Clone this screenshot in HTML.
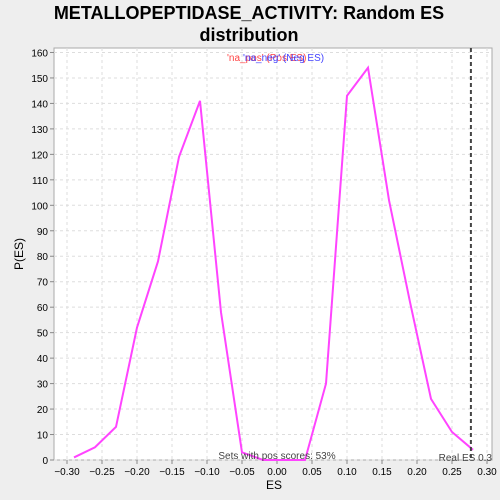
<!DOCTYPE html>
<html><head><meta charset="utf-8"><style>
body{margin:0;background:#eeeeee;}
svg{display:block;font-family:"Liberation Sans","DejaVu Sans",sans-serif;}
</style></head><body>
<svg id="chart" width="500" height="500">
<rect x="0" y="0" width="500" height="500" fill="#eeeeee"/>
<text x="249" y="19" text-anchor="middle" font-size="18" font-weight="bold">METALLOPEPTIDASE_ACTIVITY: Random ES</text>
<text x="249" y="41" text-anchor="middle" font-size="18" font-weight="bold">distribution</text>
<rect x="54" y="48" width="438" height="412" fill="#ffffff" stroke="#aaaaaa"/>
<g id="grid"></g><g id="axes"></g><g id="series"></g>
<text x="274" y="489" text-anchor="middle" font-size="12">ES</text>
<text x="23" y="254" text-anchor="middle" font-size="12" transform="rotate(-90 23 254)">P(ES)</text>
<text x="227" y="61" font-size="10" fill="#ff4444">'na_pos' (Pos ES)</text>
<text x="243" y="61" font-size="10" fill="#4444ff">'na_neg' (Neg ES)</text>
<text x="277" y="459" text-anchor="middle" font-size="10" fill="#444">Sets with pos scores: 53%</text>
<text x="492" y="461" text-anchor="end" font-size="10" fill="#444">Real ES 0.3</text>
</svg>
<script>
const xs=[-0.29,-0.26,-0.23,-0.20,-0.17,-0.14,-0.11,-0.08,-0.05,-0.02,0.01,0.04,0.07,0.10,0.13,0.16,0.19,0.22,0.25,0.28];
const ys=[1,5,13,52,78,119,141,58,3,0,0,0,30,143,154,102,62,24,11,4];
const xTicks=[-0.30,-0.25,-0.20,-0.15,-0.10,-0.05,0.00,0.05,0.10,0.15,0.20,0.25,0.30];
const yTicks=[0,10,20,30,40,50,60,70,80,90,100,110,120,130,140,150,160];
const realES=0.277;
const NS="http://www.w3.org/2000/svg";
function X(v){return 277+v*700;}
function Y(v){return 460-v*2.547;}
function mk(t,a,p){const e=document.createElementNS(NS,t);for(const k in a)e.setAttribute(k,a[k]);p.appendChild(e);return e;}
const grid=document.getElementById('grid'),axes=document.getElementById('axes'),ser=document.getElementById('series');
xTicks.forEach(t=>{
 const g=mk('line',{x1:X(t),x2:X(t),y1:48,y2:460,stroke:'#dddddd','stroke-dasharray':'3,3'},grid);
 
 
 mk('line',{x1:X(t),x2:X(t),y1:460,y2:464,stroke:'#888'},axes);
 const l=mk('text',{x:X(t),y:475,'text-anchor':'middle','font-size':'10'},axes);
 l.textContent=t.toFixed(2).replace('-','\u2212');
 
 
});
yTicks.forEach(t=>{
 const g=mk('line',{x1:54,x2:492,y1:Y(t),y2:Y(t),stroke:'#dddddd','stroke-dasharray':'3,3'},grid);
 
 
 mk('line',{x1:50,x2:54,y1:Y(t),y2:Y(t),stroke:'#888'},axes);
 const l=mk('text',{x:48,y:Y(t)+4,'text-anchor':'end','font-size':'10'},axes);
 l.textContent=t;
 
 
});
const pl=mk('polyline',{points:xs.map((x,i)=>X(x)+','+Y(ys[i])).join(' '),fill:'none',stroke:'#ff44ff','stroke-width':2},ser);


const rl=mk('line',{x1:X(realES),x2:X(realES),y1:48,y2:460,stroke:'#444','stroke-width':2,'stroke-dasharray':'4,3'},ser);


</script>
</body></html>
